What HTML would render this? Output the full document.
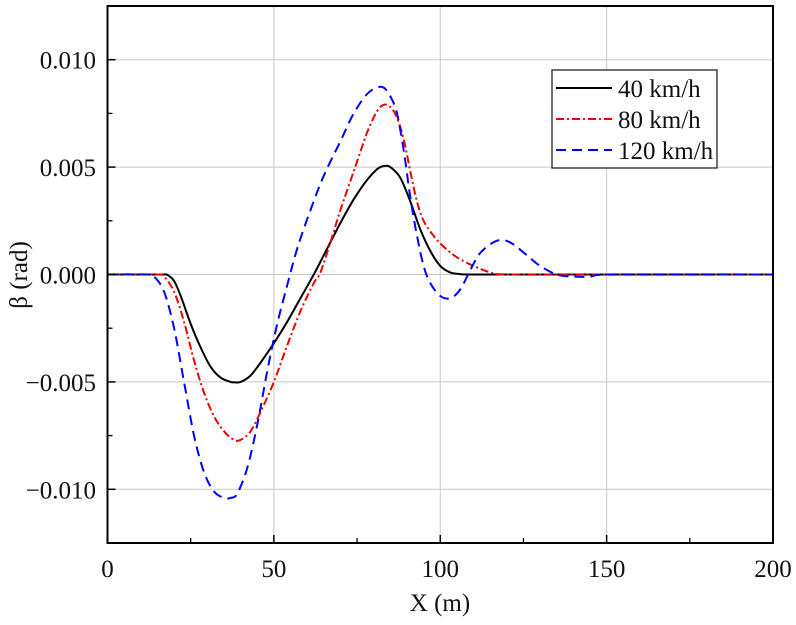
<!DOCTYPE html>
<html><head><meta charset="utf-8"><style>
body{margin:0;background:#fff}
svg text{font-family:"Liberation Serif",serif;fill:#111}
</style></head><body>
<svg id="chart" width="796" height="620" xmlns="http://www.w3.org/2000/svg">
<g id="grid"></g>
<g id="series"></g>
<g id="axes"></g>
<text x="440" y="611" font-size="25" text-anchor="middle">X (m)</text>
<text transform="translate(27,275) rotate(-90)" font-size="25" text-anchor="middle">β (rad)</text>
<g>
<rect x="552" y="70" width="165" height="98" fill="#fff" stroke="#222" stroke-width="1.3"/>
<g><line x1="556" y1="88" x2="612" y2="88" stroke="#000" stroke-width="2"/><text x="618" y="97" font-size="25">40 km/h</text></g>
<g><line x1="556" y1="119" x2="612" y2="119" stroke="#e00" stroke-width="2" stroke-dasharray="8,3,2,3"/><text x="618" y="128" font-size="25">80 km/h</text></g>
<g><line x1="556" y1="150" x2="612" y2="150" stroke="#00f" stroke-width="2" stroke-dasharray="10,6"/><text x="618" y="159" font-size="25">120 km/h</text></g>
</g>
</svg>
<script>
const xTicks=[0,50,100,150,200];
const yTicks=[-0.010,-0.005,0.000,0.005,0.010];
const yTickLabels=["\u22120.010","\u22120.005","0.000","0.005","0.010"];
const x40=[0,17,18,20,22,25,28,31,34,37,38,40,43,46,50,54,58,62,66,70,74,78,81,83,85,88,91,94,97,100,103,106,109,200];
const y40=[0,0,-0.00002,-0.0003,-0.0010,-0.0023,-0.0034,-0.0043,-0.0048,-0.0050,-0.00502,-0.0050,-0.0047,-0.0041,-0.0032,-0.0022,-0.0011,0.0000,0.0012,0.0024,0.0035,0.0044,0.0049,0.00505,0.0050,0.0045,0.0034,0.0021,0.0011,0.0004,0.0001,0.00002,0,0];
const x80=[0,15,17,20,23,26,29,32,35,38,40,43,46,50,54,58,62,64,67,70,74,78,81,83,85,87,89,91,93,95,98,101,105,110,115,120,200];
const y80=[0,0,-0.0001,-0.0008,-0.0022,-0.0040,-0.0055,-0.0066,-0.0073,-0.0077,-0.0077,-0.0073,-0.0064,-0.0050,-0.0033,-0.0017,-0.0004,0.0001,0.0015,0.0030,0.0048,0.0066,0.0076,0.0079,0.0078,0.0073,0.0063,0.0048,0.0034,0.0025,0.0018,0.0013,0.0008,0.0004,0.0001,0,0];
const x120=[0,12,14,17,20,23,26,29,32,35,37,39,42,45,48,51,54,57,61,65,70,74,78,81,83,85,87,89,91,93,95,97,100,103,106,109,112,116,119,122,126,130,135,140,145,150,200];
const y120=[0,0,-0.0001,-0.0008,-0.0025,-0.0050,-0.0075,-0.0092,-0.0101,-0.0104,-0.0104,-0.0102,-0.0090,-0.0070,-0.0045,-0.0023,-0.0005,0.0012,0.0030,0.0046,0.0062,0.0075,0.0084,0.0087,0.0087,0.0083,0.0075,0.0058,0.0036,0.0018,0.0004,-0.0004,-0.0010,-0.0011,-0.0007,0.0002,0.0010,0.0015,0.0016,0.0014,0.0009,0.0004,0.0000,-0.0001,-0.0001,0,0];
const L=107.5,R=773,T=6,B=543,X0=0,X1=200,Y0=-0.0125,Y1=0.0125;
const sx=v=>L+(v-X0)/(X1-X0)*(R-L);
const sy=v=>B-(v-Y0)/(Y1-Y0)*(B-T);
const NS="http://www.w3.org/2000/svg";
function mk(tag,attrs,parent){const e=document.createElementNS(NS,tag);for(const k in attrs)e.setAttribute(k,attrs[k]);parent.appendChild(e);return e;}
const grid=document.getElementById('grid'),axes=document.getElementById('axes'),ser=document.getElementById('series');
xTicks.forEach(t=>{
 const g=mk('line',{x1:sx(t),x2:sx(t),y1:T,y2:B,stroke:'#c8c8c8','stroke-width':1},grid);
 
 
 const tk=mk('line',{x1:sx(t),x2:sx(t),y1:B,y2:B-8,stroke:'#000','stroke-width':1.5},axes);
 
 
 const tx=mk('text',{x:sx(t),y:B+34,'font-size':25,'text-anchor':'middle'},axes);tx.textContent=t;
 
 
});
for(let t=25;t<200;t+=50){const m=mk('line',{x1:sx(t),x2:sx(t),y1:B,y2:B-5,stroke:'#000','stroke-width':1.3},axes);
 
 }
yTicks.forEach((t,i)=>{
 const g=mk('line',{x1:L,x2:R,y1:sy(t),y2:sy(t),stroke:'#c8c8c8','stroke-width':1},grid);
 
 
 const tk=mk('line',{x1:L,x2:L+8,y1:sy(t),y2:sy(t),stroke:'#000','stroke-width':1.5},axes);
 
 
 const tx=mk('text',{x:96,y:sy(t)+9,'font-size':25,'text-anchor':'end'},axes);tx.textContent=yTickLabels[i];
 
 
});
[-0.0075,-0.0025,0.0025,0.0075].forEach(t=>{const m=mk('line',{x1:L,x2:L+5,y1:sy(t),y2:sy(t),stroke:'#000','stroke-width':1.3},axes);
 
 });
const frame=mk('rect',{x:L,y:T,width:R-L,height:B-T,fill:'none',stroke:'#000','stroke-width':2},axes);


function line(xs,ys,color,dash,name){
 const P=xs.map((x,i)=>[sx(x),sy(ys[i])]);
 let d='M'+P[0][0].toFixed(1)+','+P[0][1].toFixed(1);
 for(let i=0;i<P.length-1;i++){
  const p0=P[Math.max(i-1,0)],p1=P[i],p2=P[i+1],p3=P[Math.min(i+2,P.length-1)];
  let c1x=p1[0]+(p2[0]-p0[0])/6,c1y=p1[1]+(p2[1]-p0[1])/6;
  let c2x=p2[0]-(p3[0]-p1[0])/6,c2y=p2[1]-(p3[1]-p1[1])/6;
  c1x=Math.min(Math.max(c1x,p1[0]),p2[0]);c2x=Math.min(Math.max(c2x,p1[0]),p2[0]);
  d+='C'+c1x.toFixed(1)+','+c1y.toFixed(1)+' '+c2x.toFixed(1)+','+c2y.toFixed(1)+' '+p2[0].toFixed(1)+','+p2[1].toFixed(1);
 }
 const p=mk('path',{d:d,fill:'none',stroke:color,'stroke-width':2,'stroke-dasharray':dash,'stroke-linejoin':'round'},ser);
 
 
}
line(x40,y40,'#000','none','line-40kmh');
line(x80,y80,'#e00','8,3,2,3','line-80kmh');
line(x120,y120,'#00f','10,6','line-120kmh');
</script>
</body></html>
